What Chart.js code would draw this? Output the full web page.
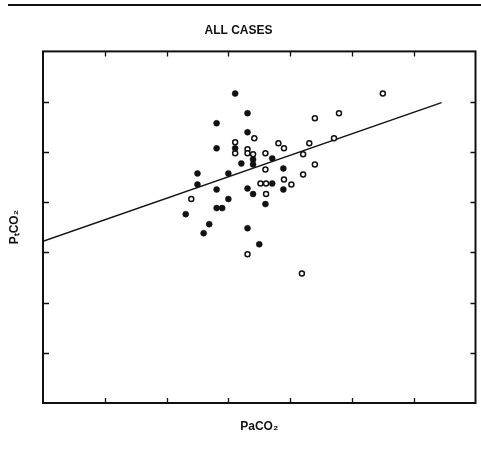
<!DOCTYPE html>
<html>
<head>
<meta charset="utf-8">
<script src="https://cdn.jsdelivr.net/npm/chart.js@4"></script>
<style>
  html, body { margin: 0; padding: 0; background: #fff; }
  canvas { display: block; }
</style>
</head>
<body>
<canvas id="c" width="481" height="452"></canvas>
<script>
// Axis domain (no tick labels are printed in the original)
const xMin = 0, xMax = 70, yMin = 0, yMax = 70, tickStep = 10;

// Filled circles
const filledX = [31.1,33.1,28.1,33.1,28.1,31.1,34.0,34.0,37.1,32.1,38.9,25.0,30.0,25.0,37.1,28.1,33.1,34.0,38.9,30.0,36.0,28.1,29.0,23.1,26.9,26.0,33.1,35.0];
const filledY = [61.6,57.7,55.7,53.9,50.7,50.7,48.5,47.5,48.7,47.7,46.7,45.7,45.7,43.5,43.7,42.5,42.7,41.6,42.5,40.6,39.6,38.8,38.8,37.6,35.6,33.8,34.8,31.6];

// Open circles
const openX = [55.0,47.9,44.0,34.2,47.1,31.1,38.1,43.1,39.0,33.1,31.1,33.1,34.0,36.0,42.1,44.0,36.0,42.1,39.0,35.2,36.1,40.2,36.1,24.0,33.1,41.9];
const openY = [61.6,57.7,56.7,52.7,52.7,51.9,51.7,51.7,50.7,50.5,49.7,49.7,49.5,49.7,49.5,47.5,46.5,45.5,44.5,43.7,43.7,43.5,41.6,40.6,29.6,25.8];

// Regression line end points
const lineX = [0, 64.5];
const lineY = [32.2, 59.8];

const ink = '#111';
const toPts = (xs, ys) => xs.map((x, i) => ({x: x, y: ys[i]}));

const framePlugin = {
  id: 'frame',
  afterDraw(chart) {
    const ctx = chart.ctx;
    const a = chart.chartArea;
    const xs = chart.scales.x, ys = chart.scales.y;
    ctx.save();
    ctx.strokeStyle = ink;
    // page rule at the very top
    ctx.lineWidth = 2;
    ctx.beginPath();
    ctx.moveTo(8, 5); ctx.lineTo(481, 5);
    ctx.stroke();
    // box
    ctx.lineWidth = 2;
    ctx.strokeRect(a.left, a.top, a.right - a.left, a.bottom - a.top);
    // inward ticks
    ctx.lineWidth = 1.3;
    ctx.beginPath();
    xs.ticks.forEach(t => {
      if (t.value <= xMin || t.value >= xMax) return;
      const px = Math.round(xs.getPixelForValue(t.value)) + 0.5;
      ctx.moveTo(px, a.bottom); ctx.lineTo(px, a.bottom - 5);
      ctx.moveTo(px, a.top); ctx.lineTo(px, a.top + 5);
    });
    ys.ticks.forEach(t => {
      if (t.value <= yMin || t.value >= yMax) return;
      const py = Math.round(ys.getPixelForValue(t.value)) + 0.5;
      ctx.moveTo(a.left, py); ctx.lineTo(a.left + 6, py);
      ctx.moveTo(a.right, py); ctx.lineTo(a.right - 5, py);
    });
    ctx.stroke();
    ctx.restore();
  }
};

const titleFont = {family: "'Liberation Sans', Arial, sans-serif", size: 12, weight: 'bold'};

new Chart(document.getElementById('c'), {
  type: 'scatter',
  data: {
    datasets: [
      {
        label: 'regression',
        type: 'line',
        data: toPts(lineX, lineY),
        borderColor: ink,
        borderWidth: 1.4,
        pointRadius: 0,
        fill: false,
        showLine: true,
        order: 3
      },
      {
        label: 'filled',
        data: toPts(filledX, filledY),
        pointStyle: 'circle',
        pointRadius: 3,
        backgroundColor: ink,
        borderColor: ink,
        borderWidth: 0.5,
        order: 1
      },
      {
        label: 'open',
        data: toPts(openX, openY),
        pointStyle: 'circle',
        pointRadius: 2.5,
        backgroundColor: '#fff',
        borderColor: ink,
        borderWidth: 1.5,
        order: 2
      }
    ]
  },
  options: {
    responsive: false,
    devicePixelRatio: 1,
    animation: false,
    layout: {padding: {left: 0, right: 4, top: 0, bottom: 0}},
    plugins: {
      legend: {display: false},
      tooltip: {enabled: false},
      title: {
        display: true,
        text: 'ALL CASES',
        color: ink,
        font: titleFont,
        padding: {top: 23, bottom: 14}
      }
    },
    scales: {
      x: {
        type: 'linear',
        position: 'bottom',
        min: xMin, max: xMax,
        ticks: {display: false, stepSize: tickStep},
        grid: {display: false, drawTicks: false},
        border: {display: false},
        title: {display: true, text: 'PaCO₂', color: ink, font: titleFont, padding: {top: 0, bottom: 18}},
        afterFit(s) { s.height = 49; }
      },
      y: {
        type: 'linear',
        position: 'left',
        min: yMin, max: yMax,
        ticks: {display: false, stepSize: tickStep},
        grid: {display: false, drawTicks: false},
        border: {display: false},
        title: {display: true, text: 'PₜCO₂', color: ink, font: titleFont, padding: {top: 7, bottom: 0}},
        afterFit(s) { s.width = 43; }
      }
    }
  },
  plugins: [framePlugin]
});
</script>
</body>
</html>
